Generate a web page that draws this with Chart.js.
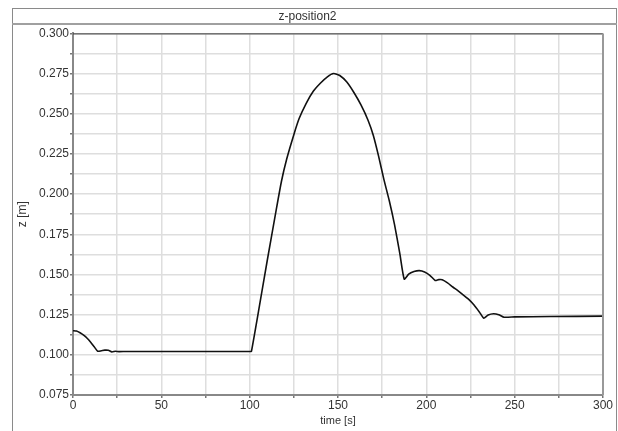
<!DOCTYPE html>
<html>
<head>
<meta charset="utf-8">
<script src="https://cdn.jsdelivr.net/npm/chart.js@4/dist/chart.umd.min.js"></script>
<style>
  html, body { margin: 0; padding: 0; background: #fff; }
  #wrap { width: 618px; height: 431px; }
</style>
</head>
<body>
<div id="wrap"><canvas id="zChart" width="618" height="431"></canvas></div>
<script>
const chartTitle = "z-position2";
const xTitle = "time [s]";
const yTitle = "z [m]";

const timeValues = [
  0, 2, 4, 6, 8, 10, 12, 14, 16, 18, 20, 22, 24, 26, 30, 40, 60, 80, 100.5,
  101, 105, 110, 115, 118, 121, 125, 128, 132, 136, 140, 144, 147.5, 151, 155,
  159, 163, 167, 170, 173, 176, 179, 182, 185, 187.5,
  190, 193, 196, 199, 202, 205, 207, 209, 212, 215, 218, 221, 224, 227, 230,
  232.5, 235, 238, 241, 244, 250, 270, 300
];
const zValues = [
  0.1150, 0.1148, 0.1137, 0.1122, 0.1103, 0.1078, 0.1050, 0.1022, 0.1025, 0.1029,
  0.1028, 0.1018, 0.1022, 0.1020, 0.1021, 0.1021, 0.1021, 0.1021, 0.1021,
  0.1021, 0.1270, 0.1590, 0.1900, 0.2080, 0.2220, 0.2370, 0.2470, 0.2565, 0.2640,
  0.2690, 0.2730, 0.2750, 0.2738, 0.2697, 0.2632, 0.2555, 0.2460, 0.2365, 0.2235,
  0.2090, 0.1960, 0.1810, 0.1630, 0.1471,
  0.1502, 0.1518, 0.1524, 0.1516, 0.1495, 0.1463, 0.1468, 0.1467, 0.1448, 0.1422,
  0.1398, 0.1372, 0.1345, 0.1310, 0.1267, 0.1228, 0.1248, 0.1256, 0.1250, 0.1234,
  0.1236, 0.1238, 0.1241
];

const xMin = 0, xMax = 300, xStep = 25, xLabelEvery = 50;
const yMin = 0.075, yMax = 0.3, yStep = 0.0125, yLabelEvery = 0.025;

const points = timeValues.map((t, i) => ({ x: t, y: zValues[i] }));

// frame around the whole chart + title bar, and the top/right plot border
const framePlugin = {
  id: "frame",
  beforeDraw(chart) {
    const c = chart.ctx;
    c.save();
    c.fillStyle = "#fff";
    c.fillRect(0, 0, chart.width, chart.height);
    c.strokeStyle = "#8a8a8a";
    c.lineWidth = 1;
    c.strokeRect(12.5, 8.5, 604, 440);
    c.strokeStyle = "#a0a0a0";
    c.lineWidth = 2;
    c.beginPath();
    c.moveTo(12, 24);
    c.lineTo(617, 24);
    c.stroke();
    c.restore();
  },
  afterDraw(chart) {
    const a = chart.chartArea;
    const c = chart.ctx;
    c.save();
    c.strokeStyle = "#333";
    c.lineWidth = 1;
    c.beginPath();
    c.moveTo(a.left, a.top + 0.5);
    c.lineTo(a.right, a.top + 0.5);
    c.stroke();
    c.strokeStyle = "#999";
    c.lineWidth = 2;
    c.beginPath();
    c.moveTo(a.right, a.top);
    c.lineTo(a.right, a.bottom);
    c.stroke();
    c.restore();
  }
};

const ctx = document.getElementById("zChart").getContext("2d");
new Chart(ctx, {
  type: "line",
  data: {
    datasets: [
      {
        label: chartTitle,
        data: points,
        borderColor: "#111",
        borderWidth: 1.6,
        pointRadius: 0,
        tension: 0.18,
        fill: false,
      },
    ],
  },
  options: {
    responsive: false,
    animation: false,
    layout: { padding: { left: 12, right: 15, top: 0, bottom: 0 } },
    plugins: {
      legend: { display: false },
      tooltip: { enabled: false },
      title: {
        display: true,
        text: chartTitle,
        color: "#333",
        font: { family: "'Liberation Sans', Arial, sans-serif", size: 12, weight: "normal" },
        padding: { top: 9, bottom: 10 },
      },
    },
    scales: {
      x: {
        type: "linear",
        min: xMin,
        max: xMax,
        afterFit(scale) { scale.height = 36; },
        border: { color: "#888", width: 2 },
        grid: { color: "#dedede", lineWidth: 1.5, tickColor: "#777", tickLength: 3 },
        ticks: {
          stepSize: xStep,
          autoSkip: false,
          maxRotation: 0,
          padding: 0,
          color: "#333",
          font: { family: "'Liberation Sans', Arial, sans-serif", size: 12 },
          callback: v => (v % xLabelEvery === 0 ? String(v) : ""),
        },
        title: {
          display: true,
          text: xTitle,
          color: "#333",
          font: { family: "'Liberation Sans', Arial, sans-serif", size: 11 },
          padding: { top: 0, bottom: 3 },
        },
      },
      y: {
        type: "linear",
        min: yMin,
        max: yMax,
        afterFit(scale) { scale.width = 61; },
        border: { color: "#888", width: 2 },
        grid: { color: "#dedede", lineWidth: 1.5, tickColor: "#777", tickLength: 3 },
        ticks: {
          stepSize: yStep,
          autoSkip: false,
          padding: 1,
          color: "#333",
          font: { family: "'Liberation Sans', Arial, sans-serif", size: 12 },
          callback: v => {
            const r = Math.round(v * 10000);
            return r % Math.round(yLabelEvery * 10000) === 0 ? v.toFixed(3) : "";
          },
        },
        title: {
          display: true,
          text: yTitle,
          color: "#333",
          font: { family: "'Liberation Sans', Arial, sans-serif", size: 12 },
          padding: { top: 3, bottom: 0 },
        },
      },
    },
  },
  plugins: [framePlugin],
});
</script>
</body>
</html>
